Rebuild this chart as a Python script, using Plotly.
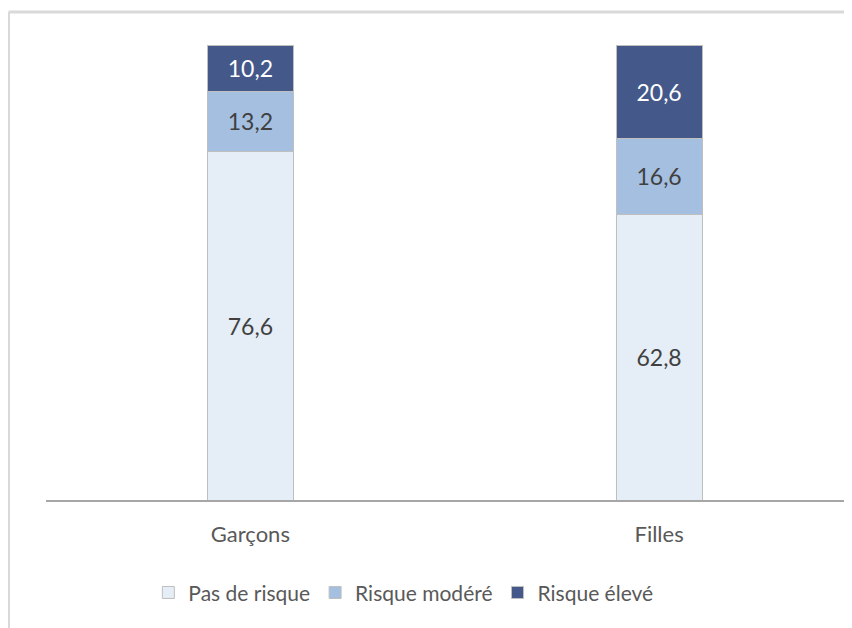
import plotly.graph_objects as go

# data
categories = ["Garçons", "Filles"]
pas_de_risque = [76.6, 62.8]
risque_modere = [13.2, 16.6]
risque_eleve = [10.2, 20.6]

series = [
    ("Pas de risque", pas_de_risque, "#e5edf6", "#404040"),
    ("Risque modéré", risque_modere, "#a5bfe0", "#404040"),
    ("Risque élevé", risque_eleve, "#44598a", "#ffffff"),
]

fig = go.Figure()
for name, vals, color, txtcol in series:
    fig.add_trace(go.Bar(
        x=categories,
        y=vals,
        name=name,
        width=0.21,
        marker=dict(color=color, line=dict(color="#bfbfbf", width=1)),
        text=[f"{v:.1f}".replace(".", ",") for v in vals],
        textposition="inside",
        insidetextanchor="middle",
        textangle=0,
        textfont=dict(color=txtcol, size=23, family="Lato"),
    ))

# the chart is cropped on the right: the frame runs past the window
fig.add_shape(type="line", xref="paper", yref="paper",
              x0=-0.0465, x1=1.1, y0=1.0725, y1=1.0725,
              line=dict(color="#d9d9d9", width=3))
fig.add_shape(type="line", xref="paper", yref="paper",
              x0=-0.0465, x1=-0.0465, y0=1.0725, y1=-0.4,
              line=dict(color="#d9d9d9", width=3))

fig.update_layout(
    barmode="stack",
    width=844,
    height=620,
    margin=dict(l=37.5, r=0, t=37, b=128),
    plot_bgcolor="white",
    paper_bgcolor="white",
    font=dict(family="Lato", color="#595959", size=21),
    showlegend=True,
    legend=dict(
        orientation="h",
        x=0.127, xanchor="left",
        y=-0.204, yanchor="middle",
        font=dict(size=21, color="#595959"),
        itemwidth=30,
        traceorder="normal",
    ),
    xaxis=dict(
        range=[-0.5, 1.472],
        showline=True,
        linecolor="#a6a6a6",
        linewidth=1.5,
        ticks="",
        showgrid=False,
        ticklabelstandoff=14,
        tickfont=dict(size=22, color="#595959"),
    ),
    yaxis=dict(
        range=[0, 100],
        visible=False,
        showgrid=False,
    ),
)

fig.write_html("out.html")
